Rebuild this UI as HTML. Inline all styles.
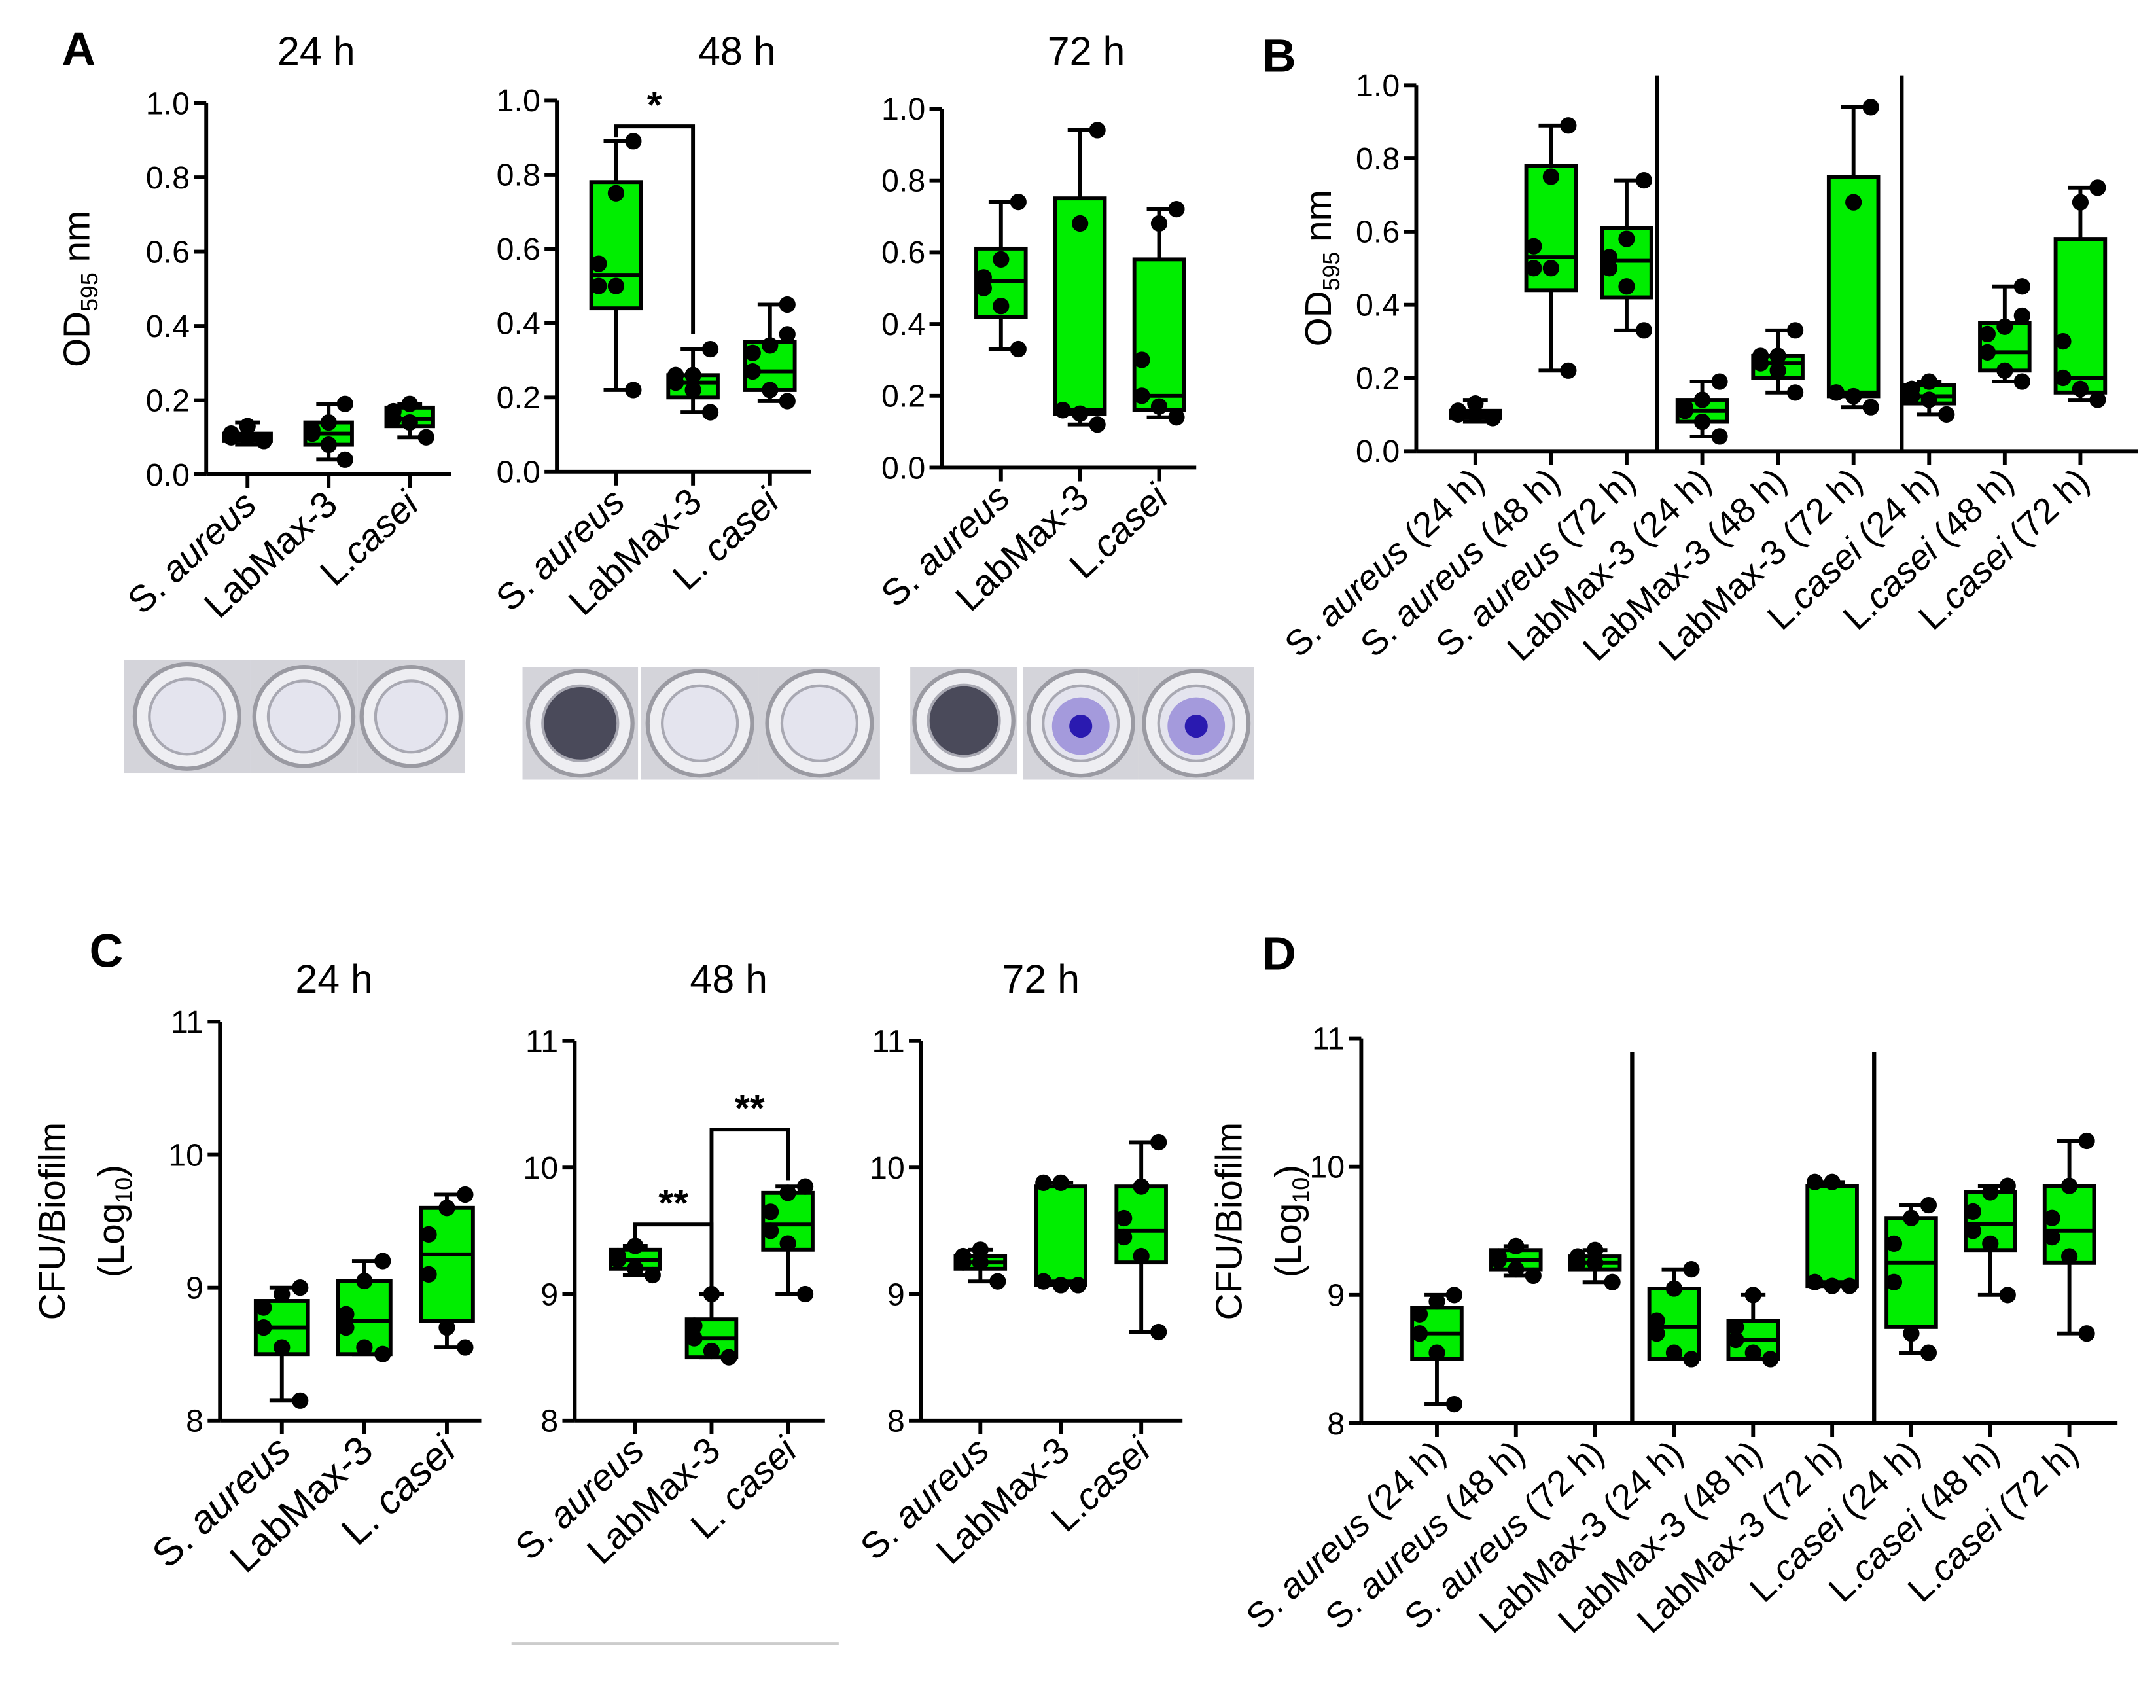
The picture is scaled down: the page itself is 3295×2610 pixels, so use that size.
<!DOCTYPE html>
<html><head><meta charset="utf-8"><style>
html,body{margin:0;padding:0;background:#fff;}
svg{display:block;font-family:"Liberation Sans",Arial,sans-serif;}
</style></head><body>
<svg id="fig" width="3295" height="2610" viewBox="0 0 1568 1242" preserveAspectRatio="none" xmlns="http://www.w3.org/2000/svg">
<rect x="0" y="0" width="1568" height="1242" fill="#fff"/>
<g id="static">
<text x="45" y="47" font-size="34" font-weight="bold">A</text>
<text x="918" y="52" font-size="34" font-weight="bold">B</text>
<text x="65" y="703" font-size="34" font-weight="bold">C</text>
<text x="918" y="705" font-size="34" font-weight="bold">D</text>
<text x="230" y="47" font-size="29" text-anchor="middle">24 h</text>
<text x="536" y="47" font-size="29" text-anchor="middle">48 h</text>
<text x="790" y="47" font-size="29" text-anchor="middle">72 h</text>
<text x="243" y="722" font-size="29" text-anchor="middle">24 h</text>
<text x="530" y="722" font-size="29" text-anchor="middle">48 h</text>
<text x="757" y="722" font-size="29" text-anchor="middle">72 h</text>
<text transform="translate(65,210) rotate(-90)" font-size="27" text-anchor="middle">OD<tspan font-size="17" dy="6">595</tspan><tspan dy="-6"> nm</tspan></text>
<text transform="translate(968,195) rotate(-90)" font-size="27" text-anchor="middle">OD<tspan font-size="17" dy="6">595</tspan><tspan dy="-6"> nm</tspan></text>
<text transform="translate(47,888) rotate(-90)" font-size="27" text-anchor="middle">CFU/Biofilm</text>
<text transform="translate(90,888) rotate(-90)" font-size="27" text-anchor="middle">(Log<tspan font-size="17" dy="6">10</tspan><tspan dy="-6">)</tspan></text>
<text transform="translate(903,888) rotate(-90)" font-size="27" text-anchor="middle">CFU/Biofilm</text>
<text transform="translate(946,888) rotate(-90)" font-size="27" text-anchor="middle">(Log<tspan font-size="17" dy="6">10</tspan><tspan dy="-6">)</tspan></text>
<line x1="372" y1="1195" x2="610" y2="1195" stroke="#ccc" stroke-width="2"/>
</g>
<g id="photos"></g>
<g id="charts"></g>
</svg>
<script>
// ---- data ----
const groupsA = ["S. aureus","LabMax-3","L.casei"];
const groupsB = ["S. aureus (24 h)","S. aureus (48 h)","S. aureus (72 h)","LabMax-3 (24 h)","LabMax-3 (48 h)","LabMax-3 (72 h)","L.casei (24 h)","L.casei (48 h)","L.casei (72 h)"];
// box stats: [min, q1, median, q3, max]
const odSa24 = [0.08,0.09,0.10,0.11,0.14];
const odLm24 = [0.04,0.08,0.11,0.14,0.19];
const odLc24 = [0.10,0.13,0.15,0.18,0.19];
const odSa48 = [0.22,0.44,0.53,0.78,0.89];
const odLm48 = [0.16,0.20,0.24,0.26,0.33];
const odLc48 = [0.19,0.22,0.27,0.35,0.45];
const odSa72 = [0.33,0.42,0.52,0.61,0.74];
const odLm72 = [0.12,0.15,0.16,0.75,0.94];
const odLc72 = [0.14,0.16,0.20,0.58,0.72];
const ptsOdSa24 = [0.09,0.10,0.10,0.11,0.13];
const ptsOdLm24 = [0.04,0.08,0.11,0.12,0.14,0.19];
const ptsOdLc24 = [0.10,0.14,0.15,0.17,0.19];
const ptsOdSa48 = [0.22,0.50,0.50,0.56,0.75,0.89];
const ptsOdLm48 = [0.16,0.22,0.24,0.26,0.26,0.33];
const ptsOdLc48 = [0.19,0.22,0.27,0.32,0.34,0.37,0.45];
const ptsOdSa72 = [0.33,0.45,0.50,0.53,0.58,0.74];
const ptsOdLm72 = [0.12,0.15,0.16,0.16,0.68,0.94];
const ptsOdLc72 = [0.14,0.17,0.20,0.30,0.68,0.72];
const cfuSa24 = [8.15,8.50,8.70,8.90,9.00];
const cfuLm24 = [8.50,8.50,8.75,9.05,9.20];
const cfuLc24 = [8.55,8.75,9.25,9.60,9.70];
const cfuSa48 = [9.15,9.20,9.27,9.35,9.38];
const cfuLm48 = [8.50,8.50,8.65,8.80,9.00];
const cfuLc48 = [9.00,9.35,9.55,9.80,9.85];
const cfuSa72 = [9.10,9.20,9.25,9.30,9.35];
const cfuLm72 = [9.07,9.07,9.10,9.85,9.88];
const cfuLc72 = [8.70,9.25,9.50,9.85,10.20];
const ptsCfuSa24 = [8.15,8.55,8.70,8.85,8.95,9.00];
const ptsCfuLm24 = [8.50,8.55,8.70,8.80,9.05,9.20];
const ptsCfuLc24 = [8.55,8.70,9.10,9.40,9.60,9.70];
const ptsCfuSa48 = [9.15,9.20,9.27,9.30,9.38];
const ptsCfuLm48 = [8.50,8.55,8.65,8.75,9.00];
const ptsCfuLc48 = [9.00,9.40,9.50,9.65,9.80,9.85];
const ptsCfuSa72 = [9.10,9.25,9.25,9.30,9.35];
const ptsCfuLm72 = [9.07,9.07,9.10,9.88,9.88];
const ptsCfuLc72 = [8.70,9.30,9.45,9.60,9.85,10.20];
const odTicks = ["0.0","0.2","0.4","0.6","0.8","1.0"];
const cfuTicks = ["8","9","10","11"];

const NS="http://www.w3.org/2000/svg";
const charts=document.getElementById('charts');
function mk(tag,attrs,parent){const e=document.createElementNS(NS,tag);for(const k in attrs)e.setAttribute(k,attrs[k]);(parent||charts).appendChild(e);return e;}

function panel(cfg){
  const g=mk('g',{});
  
  
  const ys=v=>cfg.y0+(v-cfg.vmin)/(cfg.vmax-cfg.vmin)*(cfg.y1-cfg.y0);
  const n=cfg.cats.length;
  const xs=i=>cfg.cx0+i*(cfg.cx1-cfg.cx0)/(n-1);
  const ya=mk('line',{x1:cfg.ax,y1:ys(cfg.vmax),x2:cfg.ax,y2:cfg.y0,stroke:'#000','stroke-width':2.8},g);
  
  
  const xa=mk('line',{x1:cfg.ax,y1:cfg.y0,x2:cfg.axEnd,y2:cfg.y0,stroke:'#000','stroke-width':2.8},g);
  
  
  cfg.ticks.forEach(t=>{const v=parseFloat(t);const y=ys(v);
    mk('line',{x1:cfg.ax-9,y1:y,x2:cfg.ax,y2:y,stroke:'#000','stroke-width':2.8},g);
    const tx=mk('text',{x:cfg.ax-12,y:y+8,'font-size':23,'text-anchor':'end'},g);tx.textContent=t;
    
    
  });
  (cfg.dividers||[]).forEach(d=>{const l=mk('line',{x1:d,y1:cfg.divTop,x2:d,y2:cfg.y0,stroke:'#000','stroke-width':3},g);
    
    });
  cfg.cats.forEach((c,i)=>{
    const x=xs(i);const s=cfg.stats[i];const p=cfg.pts[i];const w=cfg.bw;
    mk('line',{x1:x,y1:cfg.y0,x2:x,y2:cfg.y0+10,stroke:'#000','stroke-width':2.8},g);
    const bg=mk('g',{},g);
    
    
    mk('line',{x1:x,y1:ys(s[0]),x2:x,y2:ys(s[4]),stroke:'#000','stroke-width':2.8},bg);
    mk('line',{x1:x-9,y1:ys(s[0]),x2:x+9,y2:ys(s[0]),stroke:'#000','stroke-width':2.8},bg);
    mk('line',{x1:x-9,y1:ys(s[4]),x2:x+9,y2:ys(s[4]),stroke:'#000','stroke-width':2.8},bg);
    mk('rect',{x:x-w/2,y:ys(s[3]),width:w,height:ys(s[1])-ys(s[3]),fill:'#00ee00',stroke:'#000','stroke-width':2.8},bg);
    mk('line',{x1:x-w/2,y1:ys(s[2]),x2:x+w/2,y2:ys(s[2]),stroke:'#000','stroke-width':2.8},bg);
    p.forEach((v,j)=>{const off=((j%3)-1)*w*0.35*((j%2)?1:-1);
      const d=mk('circle',{cx:x+off,cy:ys(v),r:6,fill:'#000'},bg);
      
      });
    const lab=mk('text',{transform:`translate(${x+8},${cfg.y0+24}) rotate(-43)`,'font-size':cfg.lfs,'text-anchor':'end'},g);
    if(c.startsWith('S. aureus')){const a=mk('tspan',{},lab);a.textContent='S. ';const b=mk('tspan',{'font-style':'italic'},lab);b.textContent='aureus';const r=mk('tspan',{},lab);r.textContent=c.slice(9);}
    else if(c.startsWith('L.')){const a=mk('tspan',{},lab);a.textContent=c.startsWith('L. ')?'L. ':'L.';const b=mk('tspan',{'font-style':'italic'},lab);b.textContent='casei';const r=mk('tspan',{},lab);r.textContent=c.slice(c.indexOf('casei')+5);}
    else lab.textContent=c;
    
    
  });
  (cfg.brackets||[]).forEach(b=>{
    const xa=xs(b.a),xb=xs(b.b),y=ys(b.v);
    const pl=mk('polyline',{points:`${xa},${ys(b.la)} ${xa},${y} ${xb},${y} ${xb},${ys(b.lb)}`,fill:'none',stroke:'#000','stroke-width':2.8},g);
    
    
    const t=mk('text',{x:(xa+xb)/2,y:y-6,'font-size':28,'font-weight':'bold','text-anchor':'middle'},g);t.textContent=b.t;
    
    
  });
}
const Bg=groupsB;
panel({name:'chart-a-24h',cats:["S. aureus","LabMax-3","L.casei"],stats:[odSa24,odLm24,odLc24],pts:[ptsOdSa24,ptsOdLm24,ptsOdLc24],ax:150,axEnd:328,y0:345,y1:75,vmin:0,vmax:1,cx0:180,cx1:298,bw:34,ticks:odTicks,lfs:27});
panel({name:'chart-a-48h',cats:["S. aureus","LabMax-3","L. casei"],stats:[odSa48,odLm48,odLc48],pts:[ptsOdSa48,ptsOdLm48,ptsOdLc48],ax:405,axEnd:590,y0:343,y1:73,vmin:0,vmax:1,cx0:448,cx1:560,bw:36,ticks:odTicks,lfs:27,
  brackets:[{a:0,b:1,v:0.93,la:0.9,lb:0.37,t:'*'}]});
panel({name:'chart-a-72h',cats:["S. aureus","LabMax-3","L.casei"],stats:[odSa72,odLm72,odLc72],pts:[ptsOdSa72,ptsOdLm72,ptsOdLc72],ax:685,axEnd:870,y0:340,y1:79,vmin:0,vmax:1,cx0:728,cx1:843,bw:36,ticks:odTicks,lfs:27});
panel({name:'chart-b',cats:Bg,stats:[odSa24,odSa48,odSa72,odLm24,odLm48,odLm72,odLc24,odLc48,odLc72],pts:[ptsOdSa24,ptsOdSa48,ptsOdSa72,ptsOdLm24,ptsOdLm48,ptsOdLm72,ptsOdLc24,ptsOdLc48,ptsOdLc72],ax:1030,axEnd:1555,y0:328,y1:62,vmin:0,vmax:1,cx0:1073,cx1:1513,bw:36,ticks:odTicks,lfs:26,dividers:[1205,1383],divTop:55});
panel({name:'chart-c-24h',cats:["S. aureus","LabMax-3","L. casei"],stats:[cfuSa24,cfuLm24,cfuLc24],pts:[ptsCfuSa24,ptsCfuLm24,ptsCfuLc24],ax:160,axEnd:350,y0:1033,y1:743,vmin:8,vmax:11,cx0:205,cx1:325,bw:38,ticks:cfuTicks,lfs:29});
panel({name:'chart-c-48h',cats:["S. aureus","LabMax-3","L. casei"],stats:[cfuSa48,cfuLm48,cfuLc48],pts:[ptsCfuSa48,ptsCfuLm48,ptsCfuLc48],ax:418,axEnd:600,y0:1033,y1:757,vmin:8,vmax:11,cx0:462,cx1:573,bw:36,ticks:cfuTicks,lfs:27,
  brackets:[{a:0,b:1,v:9.55,la:9.42,lb:9.05,t:'**'},{a:1,b:2,v:10.3,la:9.05,lb:9.9,t:'**'}]});
panel({name:'chart-c-72h',cats:["S. aureus","LabMax-3","L.casei"],stats:[cfuSa72,cfuLm72,cfuLc72],pts:[ptsCfuSa72,ptsCfuLm72,ptsCfuLc72],ax:670,axEnd:860,y0:1033,y1:757,vmin:8,vmax:11,cx0:713,cx1:830,bw:36,ticks:cfuTicks,lfs:27});
panel({name:'chart-d',cats:Bg,stats:[cfuSa24,cfuSa48,cfuSa72,cfuLm24,cfuLm48,cfuLm72,cfuLc24,cfuLc48,cfuLc72],pts:[ptsCfuSa24,ptsCfuSa48,ptsCfuSa72,ptsCfuLm24,ptsCfuLm48,ptsCfuLm72,ptsCfuLc24,ptsCfuLc48,ptsCfuLc72],ax:990,axEnd:1540,y0:1035,y1:755,vmin:8,vmax:11,cx0:1045,cx1:1505,bw:36,ticks:cfuTicks,lfs:26,dividers:[1187,1363],divTop:765});

// well photos
const photos=document.getElementById('photos');
function well(x,y,w,h,dark,spot,parent){
  const g=mk('g',{},parent);
  
  
  mk('rect',{x:x,y:y,width:w,height:h,fill:'#d4d4da'},g);
  const cx=x+w/2,cy=y+h/2,r=Math.min(w,h)/2-3;
  mk('circle',{cx:cx,cy:cy,r:r,fill:'#eeeef2',stroke:'#9a9aa2','stroke-width':3},g);
  mk('circle',{cx:cx,cy:cy,r:r*0.72,fill:dark?'#4a4a5a':'#e4e4ee',stroke:'#a8a8b2','stroke-width':2},g);
  if(spot){mk('circle',{cx:cx,cy:cy+2,r:r*0.55,fill:'#a49adc'},g);mk('circle',{cx:cx,cy:cy+2,r:r*0.22,fill:'#2a1ab0'},g);}
}
well(90,480,92,82,false,false,photos);well(182,480,78,82,false,false,photos);well(260,480,78,82,false,false,photos);
well(380,485,84,82,true,false,photos);well(466,485,86,82,false,false,photos);well(552,485,88,82,false,false,photos);
well(662,485,78,78,true,false,photos);well(744,485,84,82,false,true,photos);well(828,485,84,82,false,true,photos);
</script>
</body></html>
